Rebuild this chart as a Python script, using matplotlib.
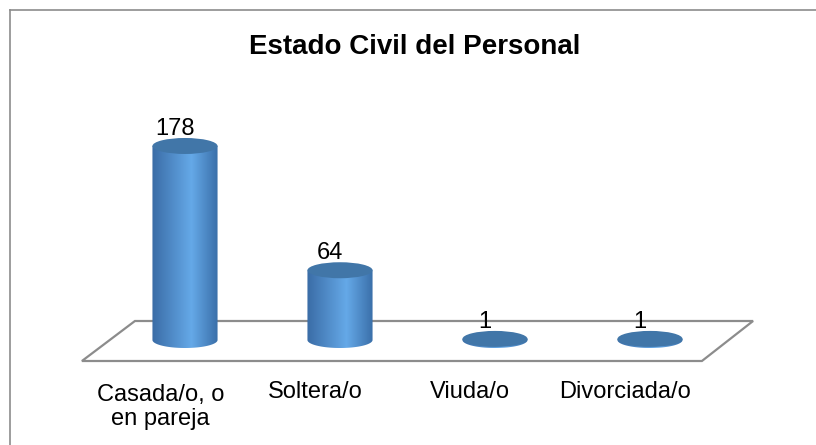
import numpy as np
import matplotlib
matplotlib.use("Agg")
import matplotlib.pyplot as plt
from matplotlib.patches import Ellipse, Polygon, PathPatch
from matplotlib.path import Path
from matplotlib.colors import LinearSegmentedColormap
from matplotlib.lines import Line2D

# Datos del grafico
categorias = ["Casada/o, o\nen pareja", "Soltera/o", "Viuda/o", "Divorciada/o"]
valores = [178, 64, 1, 1]
titulo = "Estado Civil del Personal"

plt.rcParams['font.family'] = ['Liberation Sans', 'DejaVu Sans']

fig = plt.figure(figsize=(8.16, 4.45), dpi=100)
ax = fig.add_axes([0, 0, 1, 1])
ax.axis('off')

# escala: 1 categoria = 155 px, 1 unidad = 1.09 px, base en y=340 px
px_cat = 155.0
px_val = 1.09

# Piso en perspectiva
y_atras = (340 - 321) / px_val
y_frente = (340 - 361) / px_val
piso = Polygon([(-0.665, y_frente), (-0.323, y_atras), (3.665, y_atras),
                (3.335, y_frente)], closed=True, fill=False,
               edgecolor='#8c8c8c', lw=1.6, zorder=1)
ax.add_patch(piso)

# Cilindros
hw = 0.21
eh = 16 / px_val
cmap = LinearSegmentedColormap.from_list(
    "cil", [(0, '#3a6ca6'), (0.6, '#65a9e8'), (1, '#3a6fa9')])
grad = np.linspace(0, 1, 256).reshape(1, -1)
t = np.linspace(np.pi, 2 * np.pi, 60)

for i, v in enumerate(valores):
    verts = [(i - hw, v)]
    verts += list(zip(i + hw * np.cos(t), eh / 2 * np.sin(t)))
    verts += [(i + hw, v), (i - hw, v)]
    camino = Path(verts, closed=True)
    clip = PathPatch(camino, facecolor='none', edgecolor='none')
    ax.add_patch(clip)
    im = ax.imshow(grad, cmap=cmap, aspect='auto', zorder=2,
                   extent=(i - hw, i + hw, -eh / 2, v))
    im.set_clip_path(clip)
    tapa = Ellipse((i, v), 2 * hw, eh, facecolor='#4176a8',
                   edgecolor='none', zorder=3)
    ax.add_patch(tapa)
    ax.text(i - 0.065, v + 17 / px_val, str(v), ha='center', va='center',
            fontsize=17, zorder=4)
    # la linea base de la ultima linea del texto
    n_lineas = categorias[i].count("\n")
    ax.text(i - 0.16, (340 - 398 - 27 * n_lineas) / px_val, categorias[i],
            ha='center', va='baseline', fontsize=17, linespacing=1.12)

ax.set_xlim(-185 / px_cat, (816 - 185) / px_cat)
ax.set_ylim((340 - 445) / px_val, 340 / px_val)

fig.text(415 / 816, 1 - 47 / 445, titulo, ha='center', va='center',
         fontsize=20, fontweight='bold')

# Borde del area del grafico
fig.add_artist(Line2D([10 / 816, 1], [1 - 10 / 445] * 2,
                      color='#8c8c8c', lw=1.2))
fig.add_artist(Line2D([10 / 816] * 2, [0, 1 - 10 / 445],
                      color='#8c8c8c', lw=1.2))

fig.savefig("out.png", dpi=100)
